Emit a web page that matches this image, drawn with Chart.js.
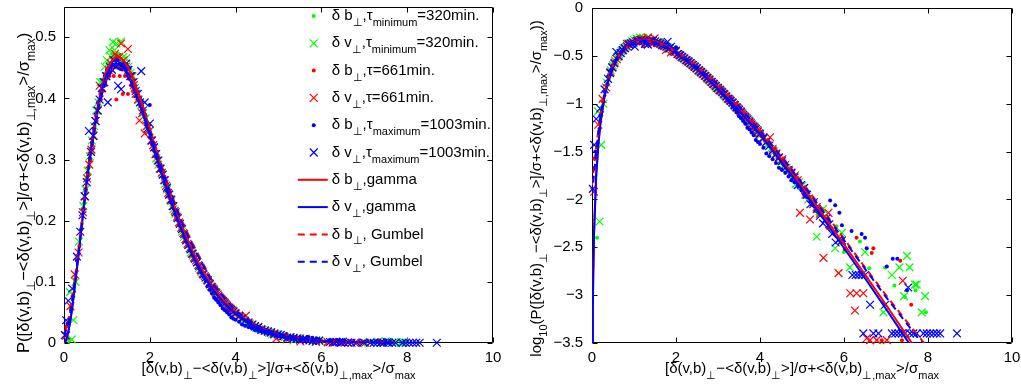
<!DOCTYPE html>
<html><head><meta charset="utf-8">
<script src="https://cdn.jsdelivr.net/npm/chart.js@4.4.1/dist/chart.umd.min.js"></script>
<style>
html,body{margin:0;padding:0;background:#fff;width:1021px;height:387px;overflow:hidden}
#c1{position:absolute;left:0;top:0;width:510px;height:387px}
#c2{position:absolute;left:510px;top:0;width:511px;height:387px}
</style></head><body>
<canvas id="c1" width="510" height="387"></canvas>
<canvas id="c2" width="511" height="387"></canvas>
<script>
// ---------- DATA (x, log10 P) ----------
const xTicks = [0, 2, 4, 6, 8, 10];
const xTickLabels = ['0', '2', '4', '6', '8', '10'];
const yTicksLin = [0, 0.1, 0.2, 0.3, 0.4, 0.5];
const yTickLabelsLin = ['0', '0.1', '0.2', '0.3', '0.4', '0.5'];
const yTicksLog = [0, -0.5, -1, -1.5, -2, -2.5, -3, -3.5];
const yTickLabelsLog = ['0', '\u22120.5', '\u22121', '\u22121.5', '\u22122', '\u22122.5', '\u22123', '\u22123.5'];

const seriesNames = [
  ['\u03b4 b', ['\u22a5'], ',\u03c4', ['minimum'], '=320min.'],
  ['\u03b4 v', ['\u22a5'], ',\u03c4', ['minimum'], '=320min.'],
  ['\u03b4 b', ['\u22a5'], ',\u03c4=661min.'],
  ['\u03b4 v', ['\u22a5'], ',\u03c4=661min.'],
  ['\u03b4 b', ['\u22a5'], ',\u03c4', ['maximum'], '=1003min.'],
  ['\u03b4 v', ['\u22a5'], ',\u03c4', ['maximum'], '=1003min.'],
  ['\u03b4 b', ['\u22a5'], ',gamma'],
  ['\u03b4 v', ['\u22a5'], ',gamma'],
  ['\u03b4 b', ['\u22a5'], ', Gumbel'],
  ['\u03b4 v', ['\u22a5'], ', Gumbel']
];

const gB320 = [[0.12,-2.40],[0.22,-1.12],[0.32,-0.86],[0.42,-0.71],[0.52,-0.57],[0.62,-0.50],[0.72,-0.45],[0.82,-0.40],[0.92,-0.365],[1.02,-0.34],[1.12,-0.325],[1.22,-0.33],[1.32,-0.335],[1.42,-0.345],[1.52,-0.36],[1.62,-0.37],[1.72,-0.39],[1.82,-0.41],[1.92,-0.44],[2.02,-0.47],[2.12,-0.50],[2.22,-0.53],[2.32,-0.575],[2.42,-0.60],[2.52,-0.65],[2.62,-0.67],[2.72,-0.73],[2.82,-0.75],[2.92,-0.82],[3.02,-0.84],[3.12,-0.90],[3.22,-0.92],[3.32,-0.99],[3.42,-1.02],[3.52,-1.09],[3.62,-1.11],[3.72,-1.19],[3.82,-1.21],[3.92,-1.30],[4.02,-1.31],[4.17,-1.43],[4.32,-1.47],[4.47,-1.62],[4.62,-1.64],[4.77,-1.78],[4.92,-1.80],[5.07,-1.97],[5.22,-1.98],[5.37,-2.16],[5.52,-2.12],[5.67,-2.31],[5.82,-2.28],[6.0,-2.55],[6.38,-2.44],[6.6,-2.72],[6.98,-2.71],[7.2,-2.90],[7.45,-3.02],[7.7,-2.95],[7.95,-3.18],
  [0.47,-0.64],[0.57,-0.54],[0.67,-0.475],[0.77,-0.425],[0.87,-0.385],[0.97,-0.355],[1.07,-0.34],[1.17,-0.33],[1.27,-0.325],[1.37,-0.34],[1.47,-0.35],[1.57,-0.365],[1.67,-0.385],[1.77,-0.405],[1.87,-0.43],[1.97,-0.455],[2.07,-0.485],[2.17,-0.515],[2.27,-0.55],[2.37,-0.58],[2.47,-0.625],[2.57,-0.655],[2.67,-0.695],[2.77,-0.74],[2.87,-0.78],[2.97,-0.825],[3.07,-0.865],[3.17,-0.915],[3.27,-0.96],[3.37,-1.0],[3.47,-1.05],[3.57,-1.10],[3.67,-1.15],[3.77,-1.20],[3.87,-1.255],[3.97,-1.30],[4.1,-1.37],[4.25,-1.46],[4.4,-1.55],[4.55,-1.62],[4.7,-1.73],[4.85,-1.79],[5.0,-1.90],[5.15,-1.97],[5.3,-2.08],[5.45,-2.14]];
const gV320 = [[0.14,-1.08],[0.18,-2.23],[0.22,-1.43],[0.27,-1.0],[0.35,-0.78],[0.45,-0.65],[0.55,-0.55],[0.65,-0.48],[0.75,-0.42],[0.85,-0.37],[0.95,-0.345],[1.06,-0.32],[1.14,-0.308],[1.22,-0.31],[1.33,-0.307],[1.45,-0.332],[1.55,-0.355],[1.65,-0.38],[1.75,-0.40],[1.85,-0.425],[1.95,-0.45],[2.05,-0.48],[2.15,-0.52],[2.25,-0.545],[2.35,-0.585],[2.45,-0.615],[2.55,-0.66],[2.65,-0.69],[2.75,-0.74],[2.85,-0.77],[2.95,-0.83],[3.05,-0.85],[3.15,-0.91],[3.25,-0.95],[3.35,-0.99],[3.45,-1.04],[3.55,-1.08],[3.65,-1.15],[3.75,-1.18],[3.85,-1.25],[3.95,-1.28],[4.1,-1.36],[4.25,-1.47],[4.4,-1.52],[4.55,-1.65],[4.7,-1.70],[4.85,-1.84],[5.0,-1.86],[5.15,-2.0],[5.35,-2.39],[5.5,-2.1],[5.79,-2.51],[5.95,-2.35],[6.14,-2.71],[6.5,-2.55],[6.94,-3.18],[7.14,-2.79],[7.32,-2.71],[7.43,-3.01],[7.50,-2.59],[7.56,-2.71],[7.69,-2.89],[7.73,-2.89],[7.85,-3.18],[7.93,-3.01],
  [0.5,-0.60],[0.6,-0.515],[0.7,-0.45],[0.8,-0.405],[0.9,-0.37],[1.0,-0.335],[1.1,-0.33],[1.18,-0.32],[1.28,-0.33],[1.38,-0.33],[1.5,-0.345],[1.6,-0.36],[1.7,-0.39],[1.8,-0.41],[1.9,-0.435],[2.0,-0.46],[2.1,-0.495],[2.2,-0.535],[2.3,-0.56],[2.4,-0.6],[2.5,-0.635],[2.6,-0.675],[2.7,-0.71],[2.8,-0.76],[2.9,-0.795],[3.0,-0.845],[3.1,-0.88],[3.2,-0.935],[3.3,-0.97],[3.4,-1.025],[3.5,-1.06],[3.6,-1.125],[3.7,-1.16],[3.8,-1.225],[3.9,-1.26],[4.0,-1.33],[4.18,-1.43],[4.33,-1.5],[4.48,-1.6],[4.63,-1.67],[4.78,-1.77],[4.93,-1.82],[5.08,-1.95],[5.25,-2.05],[5.42,-2.12]];
const rB661 = [[0.06,-1.57],[0.18,-1.26],[0.26,-0.98],[0.36,-0.80],[0.46,-0.66],[0.56,-0.56],[0.66,-0.49],[0.76,-0.44],[0.86,-0.40],[0.96,-0.375],[1.06,-0.36],[1.16,-0.36],[1.22,-0.40],[1.30,-0.36],[1.37,-0.39],[1.49,-0.39],[1.56,-0.375],[1.65,-0.377],[1.76,-0.41],[1.86,-0.425],[1.96,-0.455],[2.06,-0.49],[2.16,-0.52],[2.26,-0.55],[2.36,-0.58],[2.46,-0.625],[2.56,-0.655],[2.66,-0.70],[2.76,-0.735],[2.86,-0.785],[2.96,-0.82],[3.06,-0.875],[3.16,-0.905],[3.26,-0.96],[3.36,-0.995],[3.46,-1.05],[3.56,-1.09],[3.66,-1.15],[3.76,-1.19],[3.86,-1.255],[3.96,-1.29],[4.12,-1.39],[4.27,-1.45],[4.42,-1.57],[4.57,-1.62],[4.72,-1.74],[4.87,-1.79],[5.02,-1.93],[5.17,-1.97],[5.32,-2.12],[5.47,-2.15],[5.62,-2.30],[5.8,-2.34],[6.02,-2.52],[6.30,-2.40],[6.66,-2.56],[6.70,-2.51],[6.9,-3.47],[7.34,-2.64],[7.38,-3.47],[7.6,-3.10],
  [0.51,-0.6],[0.61,-0.525],[0.71,-0.46],[0.81,-0.415],[0.91,-0.385],[1.01,-0.36],[1.11,-0.345],[1.26,-0.345],[1.42,-0.36],[1.61,-0.385],[1.71,-0.40],[1.81,-0.42],[1.91,-0.445],[2.01,-0.475],[2.11,-0.505],[2.21,-0.54],[2.31,-0.57],[2.41,-0.61],[2.51,-0.64],[2.61,-0.685],[2.71,-0.72],[2.81,-0.765],[2.91,-0.8],[3.01,-0.85],[3.11,-0.89],[3.21,-0.935],[3.31,-0.98],[3.41,-1.03],[3.51,-1.07],[3.61,-1.125],[3.71,-1.17],[3.81,-1.225],[3.91,-1.27],[4.03,-1.34],[4.2,-1.42],[4.35,-1.52],[4.5,-1.59],[4.65,-1.69],[4.8,-1.76],[4.95,-1.86],[5.1,-1.93],[5.25,-2.05],[5.4,-2.10]];
const rV661 = [[0.05,-1.92],[0.15,-1.22],[0.25,-0.95],[0.34,-0.83],[0.44,-0.67],[0.54,-0.57],[0.64,-0.50],[0.74,-0.44],[0.83,-0.376],[0.94,-0.37],[1.04,-0.35],[1.14,-0.335],[1.24,-0.33],[1.33,-0.31],[1.49,-0.318],[1.58,-0.36],[1.67,-0.39],[1.76,-0.439],[1.88,-0.465],[1.98,-0.46],[2.08,-0.49],[2.18,-0.525],[2.28,-0.555],[2.38,-0.59],[2.48,-0.63],[2.58,-0.665],[2.68,-0.705],[2.78,-0.745],[2.88,-0.79],[2.98,-0.835],[3.08,-0.87],[3.18,-0.92],[3.28,-0.96],[3.38,-1.01],[3.48,-1.05],[3.58,-1.10],[3.68,-1.15],[3.78,-1.20],[3.88,-1.25],[3.98,-1.31],[4.08,-1.35],[4.24,-1.35],[4.38,-1.52],[4.53,-1.58],[4.68,-1.70],[4.83,-1.75],[4.95,-2.14],[5.05,-1.88],[5.19,-2.21],[5.35,-2.08],[5.51,-2.61],[5.63,-2.14],[5.87,-2.77],[6.15,-2.98],[6.26,-3.16],[6.30,-2.98],[6.46,-2.98],[6.54,-3.45],[6.62,-3.47],[6.78,-3.47],[7.02,-3.47],[7.4,-2.85],
  [0.49,-0.62],[0.59,-0.535],[0.69,-0.47],[0.79,-0.42],[0.89,-0.38],[0.99,-0.36],[1.09,-0.34],[1.19,-0.325],[1.29,-0.33],[1.39,-0.335],[1.44,-0.345],[1.54,-0.36],[1.63,-0.375],[1.72,-0.40],[1.82,-0.425],[1.93,-0.45],[2.03,-0.48],[2.13,-0.51],[2.23,-0.545],[2.33,-0.575],[2.43,-0.61],[2.53,-0.65],[2.63,-0.685],[2.73,-0.725],[2.83,-0.77],[2.93,-0.81],[3.03,-0.855],[3.13,-0.895],[3.23,-0.945],[3.33,-0.985],[3.43,-1.035],[3.53,-1.08],[3.63,-1.13],[3.73,-1.175],[3.83,-1.23],[3.93,-1.275],[4.15,-1.40],[4.3,-1.47],[4.45,-1.57],[4.6,-1.64],[4.75,-1.73],[4.9,-1.8],[5.1,-1.95],[5.27,-2.05],[5.43,-2.15]];
const bB1003 = [[0.08,-1.5],[0.2,-1.12],[0.3,-0.87],[0.4,-0.73],[0.5,-0.60],[0.6,-0.52],[0.7,-0.455],[0.8,-0.405],[0.9,-0.375],[1.0,-0.35],[1.1,-0.34],[1.2,-0.345],[1.3,-0.34],[1.4,-0.34],[1.53,-0.347],[1.6,-0.37],[1.7,-0.385],[1.8,-0.405],[1.9,-0.43],[2.0,-0.41],[2.1,-0.49],[2.2,-0.52],[2.3,-0.55],[2.4,-0.59],[2.5,-0.62],[2.6,-0.665],[2.7,-0.70],[2.8,-0.745],[2.9,-0.79],[3.0,-0.84],[3.1,-0.89],[3.2,-0.94],[3.3,-0.99],[3.4,-1.06],[3.5,-1.13],[3.6,-1.18],[3.7,-1.25],[3.8,-1.30],[3.9,-1.38],[4.0,-1.42],[4.15,-1.52],[4.3,-1.58],[4.45,-1.67],[4.6,-1.72],[4.75,-1.80],[4.9,-1.86],[5.05,-1.95],[5.2,-2.02],[5.35,-2.10],[5.5,-2.18],[5.67,-2.01],[5.79,-2.06],[5.89,-2.14],[5.95,-2.27],[6.18,-2.33],[6.42,-2.36],[6.50,-2.40],[6.54,-2.51],[7.02,-2.70],[7.16,-2.62],[7.27,-2.62],[7.5,-2.95],
  [0.45,-0.66],[0.55,-0.555],[0.65,-0.485],[0.75,-0.43],[0.85,-0.39],[0.95,-0.36],[1.05,-0.345],[1.15,-0.335],[1.25,-0.335],[1.35,-0.345],[1.45,-0.35],[1.65,-0.38],[1.75,-0.40],[1.85,-0.42],[1.95,-0.45],[2.05,-0.475],[2.15,-0.51],[2.25,-0.54],[2.35,-0.57],[2.45,-0.61],[2.55,-0.64],[2.65,-0.685],[2.75,-0.725],[2.85,-0.77],[2.95,-0.815],[3.05,-0.865],[3.15,-0.915],[3.25,-0.965],[3.35,-1.03],[3.45,-1.09],[3.55,-1.15],[3.65,-1.21],[3.75,-1.27],[3.85,-1.33],[3.95,-1.40],[4.08,-1.46],[4.22,-1.55],[4.38,-1.62],[4.52,-1.69],[4.68,-1.76],[4.82,-1.82],[4.98,-1.9],[5.12,-1.98],[5.28,-2.06],[5.42,-2.13]];
const bV1003 = [[0.02,-1.89],[0.05,-1.43],[0.1,-1.16],[0.19,-1.05],[0.3,-0.85],[0.38,-0.74],[0.48,-0.62],[0.58,-0.46],[0.68,-0.47],[0.78,-0.42],[0.88,-0.38],[0.98,-0.36],[1.02,-0.405],[1.12,-0.35],[1.26,-0.376],[1.33,-0.382],[1.4,-0.345],[1.5,-0.35],[1.62,-0.37],[1.72,-0.39],[1.80,-0.352],[1.88,-0.405],[2.0,-0.445],[2.1,-0.495],[2.2,-0.525],[2.3,-0.56],[2.4,-0.595],[2.5,-0.63],[2.6,-0.67],[2.7,-0.71],[2.8,-0.75],[2.9,-0.795],[3.0,-0.835],[3.1,-0.88],[3.2,-0.925],[3.3,-0.97],[3.4,-1.015],[3.5,-1.065],[3.6,-1.115],[3.7,-1.165],[3.8,-1.215],[3.9,-1.265],[4.0,-1.315],[4.15,-1.40],[4.3,-1.49],[4.45,-1.56],[4.6,-1.67],[4.75,-1.72],[4.9,-1.85],[5.05,-1.88],[5.2,-2.05],[5.35,-2.10],[5.5,-2.25],[5.65,-2.26],[5.8,-2.45],[5.95,-2.43],[6.2,-2.79],[6.28,-2.79],[6.35,-2.79],[6.42,-2.79],[6.5,-2.79],[6.46,-3.40],[6.62,-3.10],[6.70,-3.40],[6.82,-3.40],[6.98,-3.10],[7.14,-3.40],[7.22,-3.40],[7.30,-3.40],[7.38,-3.40],[7.45,-3.40],[7.53,-2.92],[7.57,-3.40],[7.65,-3.40],[7.73,-3.40],[7.89,-3.40],[7.97,-3.40],[8.05,-3.40],[8.13,-3.40],[8.21,-3.40],[8.29,-3.40],[8.69,-3.40],
  [0.43,-0.68],[0.53,-0.58],[0.63,-0.505],[0.73,-0.44],[0.83,-0.40],[0.93,-0.37],[1.07,-0.345],[1.17,-0.335],[1.22,-0.345],[1.45,-0.34],[1.56,-0.36],[1.67,-0.385],[1.77,-0.405],[1.84,-0.42],[1.95,-0.455],[2.05,-0.48],[2.15,-0.51],[2.25,-0.545],[2.35,-0.575],[2.45,-0.615],[2.55,-0.65],[2.65,-0.69],[2.75,-0.73],[2.85,-0.775],[2.95,-0.815],[3.05,-0.86],[3.15,-0.9],[3.25,-0.95],[3.35,-0.99],[3.45,-1.04],[3.55,-1.09],[3.65,-1.14],[3.75,-1.19],[3.85,-1.24],[3.95,-1.29],[4.08,-1.36],[4.22,-1.44],[4.38,-1.53],[4.52,-1.6],[4.68,-1.69],[4.82,-1.77],[4.98,-1.85],[5.12,-1.95],[5.28,-2.03],[5.43,-2.17],[5.58,-2.2],[5.72,-2.36],[5.88,-2.42]];

const gammaB = [[0.015,-3.5],[0.02,-3.1],[0.03,-2.75],[0.05,-2.3],[0.1,-1.73],[0.15,-1.42],[0.2,-1.2],[0.3,-0.915],[0.4,-0.735],[0.5,-0.605],[0.6,-0.515],[0.7,-0.452],[0.8,-0.405],[0.9,-0.372],[1.0,-0.35],[1.1,-0.337],[1.2,-0.33],[1.3,-0.33],[1.4,-0.336],[1.5,-0.347],[1.6,-0.362],[1.8,-0.403],[2.0,-0.455],[2.2,-0.517],[2.4,-0.585],[2.6,-0.66],[2.8,-0.74],[3.0,-0.825],[3.25,-0.937],[3.5,-1.052],[3.75,-1.172],[4.0,-1.296],[4.5,-1.575],[5.0,-1.865],[5.5,-2.165],[6.0,-2.47],[6.5,-2.785],[7.0,-3.10],[7.5,-3.425],[7.7,-3.56]];
const gammaV = [[0.015,-3.6],[0.02,-3.15],[0.03,-2.80],[0.05,-2.35],[0.1,-1.76],[0.15,-1.44],[0.2,-1.21],[0.3,-0.92],[0.4,-0.74],[0.5,-0.61],[0.6,-0.52],[0.7,-0.457],[0.8,-0.41],[0.9,-0.378],[1.0,-0.357],[1.1,-0.345],[1.2,-0.34],[1.3,-0.342],[1.4,-0.349],[1.5,-0.36],[1.6,-0.376],[1.8,-0.417],[2.0,-0.47],[2.2,-0.532],[2.4,-0.60],[2.6,-0.676],[2.8,-0.757],[3.0,-0.842],[3.25,-0.955],[3.5,-1.071],[3.75,-1.193],[4.0,-1.319],[4.5,-1.602],[5.0,-1.894],[5.5,-2.197],[6.0,-2.507],[6.5,-2.824],[7.0,-3.144],[7.5,-3.471],[7.7,-3.6]];
const gumbelB = [[0,-1.85],[0.1,-1.45],[0.2,-1.1],[0.3,-0.88],[0.4,-0.72],[0.5,-0.6],[0.6,-0.52],[0.7,-0.46],[0.8,-0.415],[0.9,-0.385],[1.0,-0.365],[1.1,-0.352],[1.2,-0.347],[1.3,-0.347],[1.4,-0.352],[1.5,-0.362],[1.6,-0.375],[1.8,-0.41],[2.0,-0.456],[2.25,-0.53],[2.5,-0.612],[2.75,-0.70],[3.0,-0.79],[3.5,-1.02],[4.0,-1.27],[4.5,-1.54],[5.0,-1.82],[5.5,-2.11],[6.0,-2.41],[6.5,-2.71],[7.0,-3.0],[7.5,-3.28],[8.0,-3.55]];
const gumbelV = [[0,-1.95],[0.1,-1.5],[0.2,-1.13],[0.3,-0.9],[0.4,-0.735],[0.5,-0.61],[0.6,-0.525],[0.7,-0.462],[0.8,-0.417],[0.9,-0.386],[1.0,-0.366],[1.1,-0.353],[1.2,-0.348],[1.3,-0.348],[1.4,-0.353],[1.5,-0.363],[1.6,-0.377],[1.8,-0.413],[2.0,-0.46],[2.25,-0.535],[2.5,-0.618],[2.75,-0.707],[3.0,-0.80],[3.5,-1.03],[4.0,-1.28],[4.5,-1.55],[5.0,-1.83],[5.5,-2.125],[6.0,-2.425],[6.5,-2.725],[7.0,-3.02],[7.5,-3.3],[8.0,-3.58]];

// ---------- styling / layout ----------
const FONT = "'Liberation Sans', Arial, Helvetica, sans-serif";
const FS = 15, SFS = 11, SUBSHIFT = 7;
const GREEN = 'rgb(0,255,0)', RED = 'rgb(255,0,0)', BLUE = 'rgb(0,0,255)';

const xTitle = ['[\u03b4(v,b)', ['\u22a5'], '\u2212<\u03b4(v,b)', ['\u22a5'], '>]/\u03c3+<\u03b4(v,b)', ['\u22a5,max'], '>/\u03c3', ['max']];
const yTitleLin = ['P([\u03b4(v,b)', ['\u22a5'], '\u2212<\u03b4(v,b)', ['\u22a5'], '>]/\u03c3+<\u03b4(v,b)', ['\u22a5,max'], '>/\u03c3', ['max'], ')'];
const yTitleLog = ['log', ['10'], '(P([\u03b4(v,b)', ['\u22a5'], '\u2212<\u03b4(v,b)', ['\u22a5'], '>]/\u03c3+<\u03b4(v,b)', ['\u22a5,max'], '>/\u03c3', ['max'], '))'];

function segWidth(ctx, segs, fs, sfs) {
  let w = 0;
  for (const s of segs) {
    const sub = Array.isArray(s);
    ctx.font = (sub ? sfs : fs) + 'px ' + FONT;
    w += ctx.measureText(sub ? s[0] : s).width;
  }
  return w;
}
function drawRich(ctx, segs, x, y, align, rot, fs, sfs, shift) {
  fs = fs || FS; sfs = sfs || SFS; shift = shift || SUBSHIFT;
  ctx.save();
  ctx.translate(x, y);
  if (rot) ctx.rotate(rot);
  const w = segWidth(ctx, segs, fs, sfs);
  let cx = align === 'center' ? -w / 2 : 0;
  ctx.fillStyle = '#000';
  ctx.textBaseline = 'middle';
  ctx.textAlign = 'left';
  for (const s of segs) {
    const sub = Array.isArray(s);
    ctx.font = (sub ? sfs : fs) + 'px ' + FONT;
    const t = sub ? s[0] : s;
    ctx.fillText(t, cx, sub ? shift : 0);
    cx += ctx.measureText(t).width;
  }
  ctx.restore();
}

const frame = {
  id: 'frame',
  beforeDatasetsDraw(chart) {
    const { ctx, chartArea: a, scales: { x, y } } = chart;
    ctx.save();
    ctx.strokeStyle = '#000';
    ctx.lineWidth = 1;
    const L = Math.round(a.left) + 0.5, R = Math.round(a.right) - 0.5;
    const T = Math.round(a.top) + 0.5, B = Math.round(a.bottom) - 0.5;
    ctx.beginPath();
    ctx.rect(L, T, R - L, B - T);
    const tl = 5;
    for (const t of x.ticks) {
      const px = Math.round(x.getPixelForValue(t.value)) + 0.5;
      ctx.moveTo(px, B); ctx.lineTo(px, B - tl);
      ctx.moveTo(px, T); ctx.lineTo(px, T + tl);
    }
    for (const t of y.ticks) {
      const py = Math.round(y.getPixelForValue(t.value)) + 0.5;
      ctx.moveTo(L, py); ctx.lineTo(L + tl, py);
      ctx.moveTo(R, py); ctx.lineTo(R - tl, py);
    }
    ctx.stroke();
    ctx.restore();
  },
  afterDraw(chart) {
    const o = chart.options.plugins.frame;
    const { ctx, chartArea: a } = chart;
    const cxm = (a.left + a.right) / 2, cym = (a.top + a.bottom) / 2;
    drawRich(ctx, xTitle, cxm, o.xTitleY, 'center', 0);
    drawRich(ctx, o.yTitle, o.yTitleX, cym + o.yTitleDy, 'center', -Math.PI / 2, o.yFs, o.ySfs, o.yShift);
    if (o.legend) drawLegend(ctx);
  }
};

const legendStyles = [
  { c: GREEN, m: 'dot' }, { c: GREEN, m: 'x' }, { c: RED, m: 'dot' }, { c: RED, m: 'x' },
  { c: BLUE, m: 'dot' }, { c: BLUE, m: 'x' }, { c: RED, m: 'line' }, { c: BLUE, m: 'line' },
  { c: RED, m: 'dash' }, { c: BLUE, m: 'dash' }
];
function drawLegend(ctx) {
  const rightEdge = 490;
  const x0 = rightEdge - segWidth(ctx, seriesNames[5], FS, SFS);
  for (let i = 0; i < seriesNames.length; i++) {
    const y = 16 + 27.3 * i;
    const st = legendStyles[i];
    const mx = x0 - 18;
    ctx.save();
    ctx.strokeStyle = st.c; ctx.fillStyle = st.c;
    if (st.m === 'dot') {
      ctx.beginPath(); ctx.arc(mx, y, 2, 0, Math.PI * 2); ctx.fill();
    } else if (st.m === 'x') {
      ctx.lineWidth = 1.2; ctx.beginPath();
      ctx.moveTo(mx - 4, y - 4); ctx.lineTo(mx + 4, y + 4);
      ctx.moveTo(mx - 4, y + 4); ctx.lineTo(mx + 4, y - 4); ctx.stroke();
    } else {
      ctx.lineWidth = 2;
      if (st.m === 'dash') ctx.setLineDash([7, 5]);
      ctx.beginPath(); ctx.moveTo(x0 - 34, y); ctx.lineTo(x0 - 4, y); ctx.stroke();
    }
    ctx.restore();
    drawRich(ctx, seriesNames[i], x0, y, 'left', 0);
  }
}

function toXY(arr, log) { return arr.map(p => ({ x: p[0], y: log ? p[1] : Math.pow(10, p[1]) })); }
function buildDatasets(log) {
  const sc = (d, c, st, order) => ({
    data: toXY(d, log), showLine: false, pointStyle: st,
    pointRadius: st === 'circle' ? 2 : 5.5,
    pointBackgroundColor: c, pointBorderColor: c,
    pointBorderWidth: st === 'circle' ? 0 : 1.2, order, clip: false
  });
  const ln = (d, c, dash, order) => ({
    data: toXY(d, log), showLine: true, borderColor: c, borderWidth: 2,
    borderDash: dash, pointRadius: 0, fill: false, order, tension: 0
  });
  return [
    sc(gB320, GREEN, 'circle', 10), sc(gV320, GREEN, 'crossRot', 9),
    sc(rB661, RED, 'circle', 8), sc(rV661, RED, 'crossRot', 7),
    sc(bB1003, BLUE, 'circle', 6), sc(bV1003, BLUE, 'crossRot', 5),
    ln(gammaB, RED, [], 4), ln(gammaV, BLUE, [], 3),
    ln(gumbelB, RED, [7, 5], 2), ln(gumbelV, BLUE, [7, 5], 1)
  ];
}

function makeChart(id, log, yW, padTop, padRight, yTicks, yLabels, yMin, yMax, yPad, frameOpts) {
  const fit = (w, h) => function (s) {
    if (w !== null) s.width = w;
    if (h !== null) s.height = h;
    s.paddingLeft = 0; s.paddingRight = 0; s.paddingTop = 0; s.paddingBottom = 0;
  };
  return new Chart(document.getElementById(id), {
    type: 'scatter',
    data: { datasets: buildDatasets(log) },
    options: {
      responsive: false, animation: false, devicePixelRatio: 1, events: [],
      layout: { padding: { left: 0, top: padTop, right: padRight, bottom: 0 } },
      plugins: { legend: { display: false }, tooltip: { enabled: false }, frame: frameOpts },
      scales: {
        x: {
          type: 'linear', min: 0, max: 10,
          afterBuildTicks: s => { s.ticks = xTicks.map(v => ({ value: v })); },
          afterFit: fit(null, 44),
          grid: { display: false, drawTicks: false }, border: { display: false },
          ticks: { padding: 6, color: '#000', font: { family: FONT, size: FS },
            maxRotation: 0, autoSkip: false,
            callback: v => { const i = xTicks.findIndex(t => Math.abs(t - v) < 1e-9); return i >= 0 ? xTickLabels[i] : ''; } }
        },
        y: {
          type: 'linear', min: yMin, max: yMax,
          afterBuildTicks: s => { s.ticks = yTicks.map(v => ({ value: v })); },
          afterFit: fit(yW, null),
          grid: { display: false, drawTicks: false }, border: { display: false },
          ticks: { padding: yPad, color: '#000', font: { family: FONT, size: FS }, autoSkip: false,
            callback: v => { const i = yTicks.findIndex(t => Math.abs(t - v) < 1e-9); return i >= 0 ? yLabels[i] : ''; } }
        }
      }
    },
    plugins: [frame]
  });
}

makeChart('c1', false, 64, 2, 17, yTicksLin, yTickLabelsLin, 0, 0.55, 8,
  { xTitleY: 369, yTitle: yTitleLin, yTitleX: 24, yTitleDy: 18, yFs: 16.5, ySfs: 12, yShift: 7.5, legend: true });
makeChart('c2', true, 82, 8, 9, yTicksLog, yTickLabelsLog, -3.5, 0, 9,
  { xTitleY: 369, yTitle: yTitleLog, yTitleX: 27, yTitleDy: 13, yFs: 15, ySfs: 11, yShift: 7, legend: false });
</script>
</body></html>
